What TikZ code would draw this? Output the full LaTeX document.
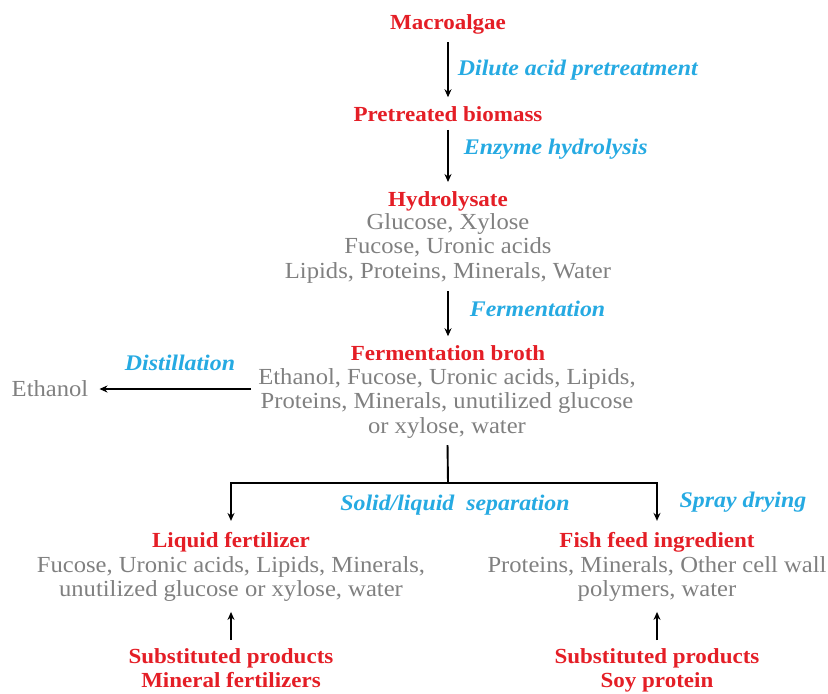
\documentclass[tikz,border=0pt]{standalone}
\usepackage{fontspec}
\setmainfont{Liberation Serif}[FakeStretch=1.07]
\usetikzlibrary{arrows.meta,positioning}

\definecolor{prodred}{RGB}{228,30,38}
\definecolor{procblue}{RGB}{38,170,226}
\definecolor{compgray}{RGB}{128,128,128}

\tikzset{
	every node/.style={inner sep=0pt,align=center,font=\fontsize{23}{24.5}\selectfont},
	product/.style={text=prodred,font=\fontsize{21.5}{24.5}\selectfont\bfseries},
	content/.style={text=compgray},
	process/.style={text=procblue,font=\fontsize{22.3}{24.5}\selectfont\bfseries\itshape},
	flow/.style={->,line width=1.9pt,shorten <=8pt,shorten >=9pt}
}

\begin{document}
\begin{tikzpicture}[x=1pt,y=-1pt,>={Stealth[length=8pt,width=7pt]}]

	\useasboundingbox (0,0) rectangle (828,694);

	% main chain
	\node [product] at (448,24)		(macro)		{Macroalgae};
	\node [product] at (448,114)	(pre_bio)	{Pretreated biomass};
	\node [product] at (448,201)	(hydro)		{Hydrolysate};
	\node [content] at (448,248)	(hydro_c)	{Glucose, Xylose\\Fucose, Uronic acids\\Lipids, Proteins, Minerals, Water};
	\node [product] at (448,353)	(broth)		{Fermentation broth};
	\node [content] at (447,403)	(broth_c)	{Ethanol, Fucose, Uronic acids, Lipids,\\Proteins, Minerals, unutilized glucose\\or xylose, water};
	\node [content] at (50,389)		(ethanol)	{Ethanol};

	% products
	\node [product] at (231,542)	(liq_fert)	{Liquid fertilizer};
	\node [content] at (231,579)	(liq_c)		{Fucose, Uronic acids, Lipids, Minerals,\\unutilized glucose or xylose, water};
	\node [product] at (657,542)	(fish)		{Fish feed ingredient};
	\node [content] at (657,579)	(fish_c)	{Proteins, Minerals, Other cell wall\\polymers, water};
	\node [product,anchor=north] at (231,648)	(sub_l)		{Substituted products\\Mineral fertilizers};
	\node [product,anchor=north] at (657,648)	(sub_r)		{Substituted products\\Soy protein};

	\coordinate (split) at (448,483);

	\path [flow]	(macro)		edge	node [process,anchor=west,xshift=9pt]			{Dilute acid pretreatment}	(pre_bio)
					(pre_bio)	edge	node [process,anchor=west,xshift=15pt,pos=0.4]	{Enzyme hydrolysis}			(hydro)
					(hydro_c)	edge	node [process,anchor=west,xshift=21pt,pos=0.42]	{Fermentation}				(broth);

	\draw [flow,shorten <=7pt,shorten >=11pt]	(broth_c.west |- ethanol)	--	(ethanol);
	\node [process] at (180,363)	(distill)	{Distillation};

	\draw [line width=1.9pt,shorten <=7pt]	(broth_c)	--	(split);
	\draw [flow,shorten <=0pt,shorten >=11pt]	(split)	-|	(liq_fert);
	\draw [flow,shorten <=0pt,shorten >=11pt]	(split)	-|	(fish);
	\node [process] at (455,505)	(sep)		{Solid/liquid\ \ separation};
	\node [process] at (743,502)	(spray)		{Spray drying};

	\draw [flow,shorten <=8pt,shorten >=10pt]	(sub_l)	--	(liq_c);
	\draw [flow,shorten <=8pt,shorten >=10pt]	(sub_r)	--	(fish_c);

\end{tikzpicture}
\end{document}
